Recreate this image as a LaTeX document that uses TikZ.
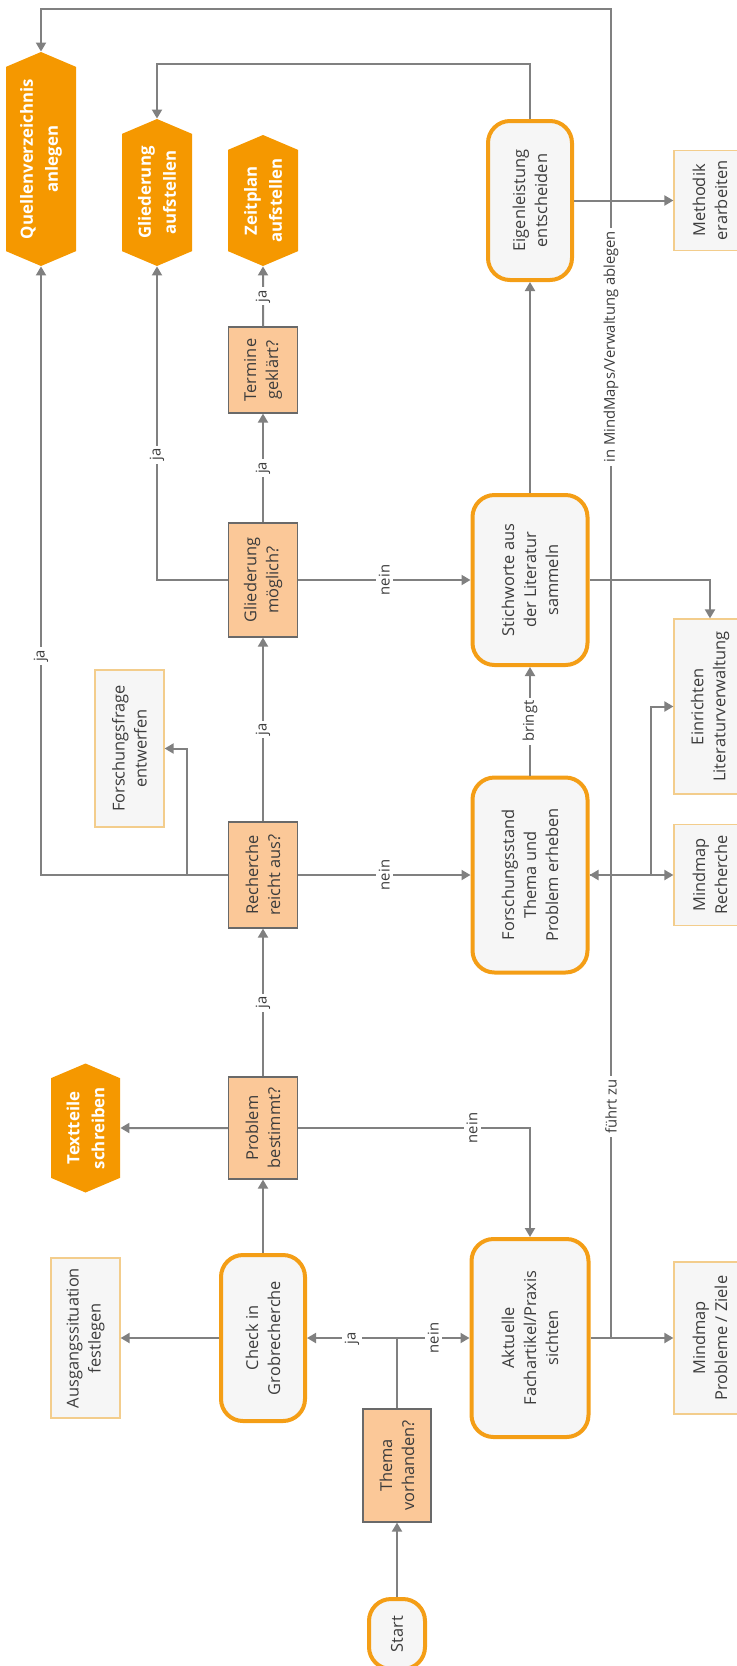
\documentclass[tikz,border=0pt]{standalone}
\usepackage{fontspec}
\setmainfont{Open Sans}
\usetikzlibrary{arrows.meta,shapes.symbols}

\definecolor{orangeRand}{RGB}{244,158,22}
\definecolor{hexFill}{RGB}{245,152,0}
\definecolor{frageFill}{RGB}{251,200,152}
\definecolor{frageRand}{RGB}{105,105,105}
\definecolor{kastenFill}{RGB}{246,246,246}
\definecolor{notizRand}{RGB}{243,205,140}
\definecolor{liniengrau}{RGB}{128,128,128}
\definecolor{textgrau}{RGB}{60,60,60}

\begin{document}
\begin{tikzpicture}[x=0.5pt, y=-0.5pt,
    font=\fontsize{8.2}{11}\selectfont, text=textgrau,
    frage/.style={rectangle, draw=frageRand, line width=0.6pt, fill=frageFill, rotate=90, align=center, inner sep=1pt},
    schritt/.style={rectangle, rounded corners=11pt, draw=orangeRand, line width=2pt, fill=kastenFill, rotate=90, align=center, inner sep=1pt},
    notiz/.style={rectangle, draw=notizRand, line width=0.6pt, fill=kastenFill, rotate=90, align=center, inner sep=1pt},
    ergebnis/.style={signal, signal to=east and west, signal pointer angle=134, fill=hexFill, text=white, font=\fontsize{8.4}{12.5}\selectfont\bfseries, rotate=90, align=center, inner sep=1pt},
    pfeil/.style={draw=liniengrau, line width=1pt, -{Triangle[length=4.5pt,width=5pt]}},
    linie/.style={draw=liniengrau, line width=1pt},
    marke/.style={fill=white, rotate=90, inner sep=1.5pt, font=\fontsize{7.4}{8}\selectfont, text=textgrau}]
            % Fix the page to the size of the sheet
            \useasboundingbox (0,0) rectangle (737,1666);
            \clip (0,0) rectangle (737,1666);

            % Draw the nodes, the sheet is turned by 90 degrees

            \node[schritt, minimum width=35pt, minimum height=28pt] (St) at (397,1634) {Start};
            \node[frage, minimum width=56.5pt, minimum height=34pt] (Th) at (397,1465.5) {Thema\\vorhanden?};
            \node[schritt, minimum width=83pt, minimum height=42pt] (Ch) at (263,1338) {Check in\\Grobrecherche};
            \node[notiz, minimum width=80pt, minimum height=34.5pt] (Au) at (85.5,1338) {Ausgangssituation\\festlegen};
            \node[schritt, minimum width=99pt, minimum height=58.5pt] (Ak) at (530,1338) {Aktuelle\\Fachartikel/Praxis\\sichten};
            \node[notiz, minimum width=76pt, minimum height=36pt] (MZ) at (710,1338) {Mindmap\\Probleme / Ziele};
            \node[frage, minimum width=51pt, minimum height=34.5pt] (Pb) at (263,1128) {Problem\\bestimmt?};
            \node[ergebnis, minimum width=64.5pt, minimum height=34.5pt] (Tx) at (85.5,1128) {Textteile\\schreiben};
            \node[frage, minimum width=53pt, minimum height=34.5pt] (Re) at (263,875) {Recherche\\reicht aus?};
            \node[notiz, minimum width=78.5pt, minimum height=34.5pt] (Ff) at (129.5,748.5) {Forschungsfrage\\entwerfen};
            \node[schritt, minimum width=97.5pt, minimum height=57.5pt] (Fs) at (530,875) {Forschungsstand\\Thema und\\Problem erheben};
            \node[notiz, minimum width=50.5pt, minimum height=36pt] (MR) at (710,875) {Mindmap\\Recherche};
            \node[notiz, minimum width=87.5pt, minimum height=36pt] (LV) at (710,706.5) {Einrichten\\Literaturverwaltung};
            \node[frage, minimum width=57pt, minimum height=34.5pt] (Gm) at (263,580) {Gliederung\\möglich?};
            \node[schritt, minimum width=85pt, minimum height=57.5pt] (Sw) at (530,580) {Stichworte aus\\der Literatur\\sammeln};
            \node[frage, minimum width=43pt, minimum height=34.5pt] (Te) at (263,370) {Termine\\geklärt?};
            \node[schritt, minimum width=79.5pt, minimum height=42pt] (Ei) at (530,200.5) {Eigenleistung\\entscheiden};
            \node[notiz, minimum width=50pt, minimum height=36pt] (Me) at (710,200.5) {Methodik\\erarbeiten};
            \node[ergebnis, minimum width=107pt, minimum height=35pt] (Qu) at (41,159) {Quellenverzeichnis\\anlegen};
            \node[ergebnis, minimum width=73.5pt, minimum height=35pt] (Ga) at (157,192.5) {Gliederung\\aufstellen};
            \node[ergebnis, minimum width=65.5pt, minimum height=35pt] (Zp) at (263,200.5) {Zeitplan\\aufstellen};

            \coordinate (TJ) at (397,1338);
            \coordinate (FJ) at (187,875);
            \coordinate (FZ) at (611,1338);
            \coordinate (RJ) at (651,875);

            % Draw the connectors
            \draw[pfeil] (St) -- (Th);
            \draw[linie] (Th.east) -- (TJ);
            \draw[pfeil] (TJ) -- node[marke] {ja} (Ch);
            \draw[pfeil] (TJ) -- node[marke] {nein} (Ak);
            \draw[pfeil] (Ch) -- (Au);
            \draw[pfeil] (Ch) -- (Pb);
            \draw[pfeil] (Ak) -- (MZ);

            \draw[pfeil] (Pb) -- (Tx);
            \draw[pfeil] (Pb.south) -| node[marke, pos=0.375] {nein} (Ak.east);
            \draw[pfeil] (Pb) -- node[marke] {ja} (Re);

            \draw[pfeil] (Re) -- node[marke] {nein} (Fs);
            \draw[pfeil] (Re.north) -| node[marke, pos=0.68] {ja} (Qu.west);
            \draw[pfeil] (FJ) |- (Ff.south);
            \draw[pfeil] (Re) -- node[marke] {ja} (Gm);

            \draw[pfeil] (Fs) -- node[marke] {bringt} (Sw);
            \draw[pfeil] (Fs) -- (MR);
            \draw[pfeil] (RJ) |- (LV.north);

            \draw[pfeil] (Gm) -- node[marke] {nein} (Sw);
            \draw[pfeil] (Gm.north) -| node[marke, pos=0.7] {ja} (Ga.west);
            \draw[pfeil] (Gm) -- node[marke] {ja} (Te);
            \draw[pfeil] (Te) -- node[marke] {ja} (Zp);

            \draw[pfeil] (Sw) -- (Ei);
            \draw[pfeil] (Sw.south) -| (LV.east);
            \draw[pfeil] (Ei.east) -- (Ei.east |- 0,64) -| (Ga.east);
            \draw[pfeil] (Ei) -- (Me);

            % The long line on the right side
            \draw[pfeil] (FZ) -- node[marke] {führt zu} (FZ |- Fs) -- (Fs.south);
            \draw[pfeil] (FZ |- Fs) -- node[marke, pos=0.61] {in MindMaps/Verwaltung ablegen} (FZ |- 0,9) -| (Qu.east);
\end{tikzpicture}
\end{document}
